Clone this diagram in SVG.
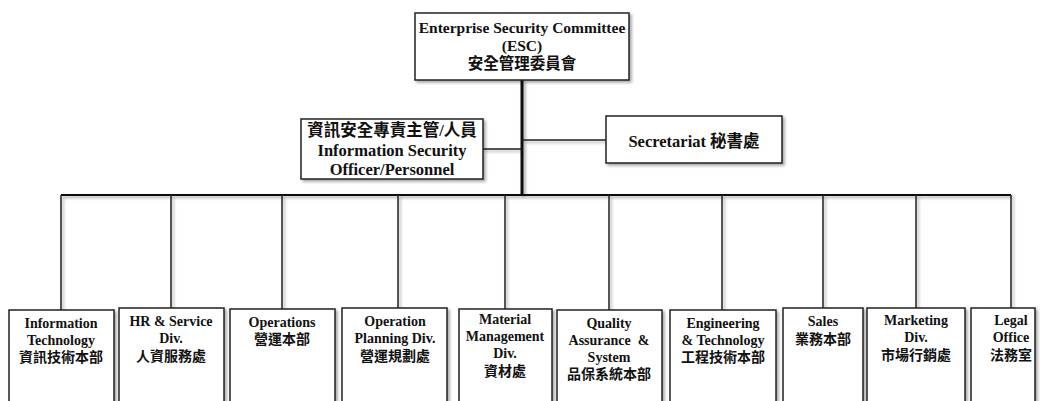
<svg xmlns="http://www.w3.org/2000/svg" width="1040" height="401" viewBox="0 0 1040 401">
<defs>
<filter id="sh" x="-10%" y="-10%" width="130%" height="130%">
<feDropShadow dx="2" dy="2" stdDeviation="1.5" flood-color="#000" flood-opacity="0.35"/>
</filter>
<style>
.box{fill:#fff;stroke:#222;stroke-width:1.5;filter:url(#sh)}
.ln{fill:none;stroke:#222;stroke-width:1.5}
.thick{fill:none;stroke:#111;stroke-width:3}
text{font-family:"Liberation Serif","Noto Sans CJK TC",serif;font-weight:bold;fill:#111;text-anchor:middle}
.t14{font-size:14px}
.t15{font-size:15.5px}
.t16{font-size:16.5px}
</style>
</defs>
<rect width="1040" height="401" fill="#fff"/>
<g id="connectors" filter="url(#sh)">
<path class="thick" d="M522,80 V195"/>
<path class="ln" d="M483,149 H522 M522,140 H606"/>
<path class="thick" d="M61,195 H1011" style="stroke-width:2"/>
<path class="ln" d="M61,195 V310 M171,195 V308 M282,195 V309 M398,195 V308 M505,195 V309 M609,195 V310 M722,195 V310 M823,195 V308 M916,195 V308 M1011,195 V308"/>
</g>
<g id="esc">
<rect class="box" x="415" y="13" width="214" height="67"/>
<text class="t15" x="522" y="33">Enterprise Security Committee</text>
<text class="t15" x="522" y="51">(ESC)</text>
<text class="t15" x="522" y="69">安全管理委員會</text>
</g>
<g id="officer">
<rect class="box" x="301" y="119" width="182" height="60"/>
<text class="t16" x="392" y="136">資訊安全專責主管/人員</text>
<text class="t16" x="392" y="156">Information Security</text>
<text class="t16" x="392" y="175">Officer/Personnel</text>
</g>
<g id="secretariat">
<rect class="box" x="606" y="116" width="176" height="47"/>
<text class="t16" x="694" y="147">Secretariat 秘書處</text>
</g>
<g id="it">
<rect class="box" x="9" y="310" width="105" height="100"/>
<text class="t14" x="61" y="328">Information</text>
<text class="t14" x="61" y="345">Technology</text>
<text class="t14" x="61" y="362">資訊技術本部</text>
</g>
<g id="hr">
<rect class="box" x="119" y="308" width="105" height="100"/>
<text class="t14" x="171" y="326">HR &amp; Service</text>
<text class="t14" x="171" y="343">Div.</text>
<text class="t14" x="171" y="361">人資服務處</text>
</g>
<g id="operations">
<rect class="box" x="230" y="309" width="105" height="100"/>
<text class="t14" x="282" y="327">Operations</text>
<text class="t14" x="282" y="344">營運本部</text>
</g>
<g id="opplanning">
<rect class="box" x="342" y="308" width="105" height="100"/>
<text class="t14" x="395" y="326">Operation</text>
<text class="t14" x="395" y="343">Planning Div.</text>
<text class="t14" x="395" y="361">營運規劃處</text>
</g>
<g id="material">
<rect class="box" x="459" y="309" width="93" height="100"/>
<text class="t14" x="505" y="324">Material</text>
<text class="t14" x="505" y="341">Management</text>
<text class="t14" x="505" y="358">Div.</text>
<text class="t14" x="505" y="376">資材處</text>
</g>
<g id="quality">
<rect class="box" x="557" y="310" width="105" height="100"/>
<text class="t14" x="609" y="328">Quality</text>
<text class="t14" x="609" y="345" xml:space="preserve">Assurance  &amp;</text>
<text class="t14" x="609" y="362">System</text>
<text class="t14" x="609" y="379">品保系統本部</text>
</g>
<g id="engineering">
<rect class="box" x="670" y="310" width="106" height="100"/>
<text class="t14" x="723" y="328">Engineering</text>
<text class="t14" x="723" y="345">&amp; Technology</text>
<text class="t14" x="723" y="362">工程技術本部</text>
</g>
<g id="sales">
<rect class="box" x="783" y="308" width="80" height="100"/>
<text class="t14" x="823" y="326">Sales</text>
<text class="t14" x="823" y="344">業務本部</text>
</g>
<g id="marketing">
<rect class="box" x="867" y="308" width="98" height="100"/>
<text class="t14" x="916" y="325">Marketing</text>
<text class="t14" x="916" y="342">Div.</text>
<text class="t14" x="916" y="360">市場行銷處</text>
</g>
<g id="legal">
<rect class="box" x="971" y="308" width="64" height="100"/>
<text class="t14" x="1011" y="325">Legal</text>
<text class="t14" x="1011" y="342">Office</text>
<text class="t14" x="1011" y="360">法務室</text>
</g>
</svg>
